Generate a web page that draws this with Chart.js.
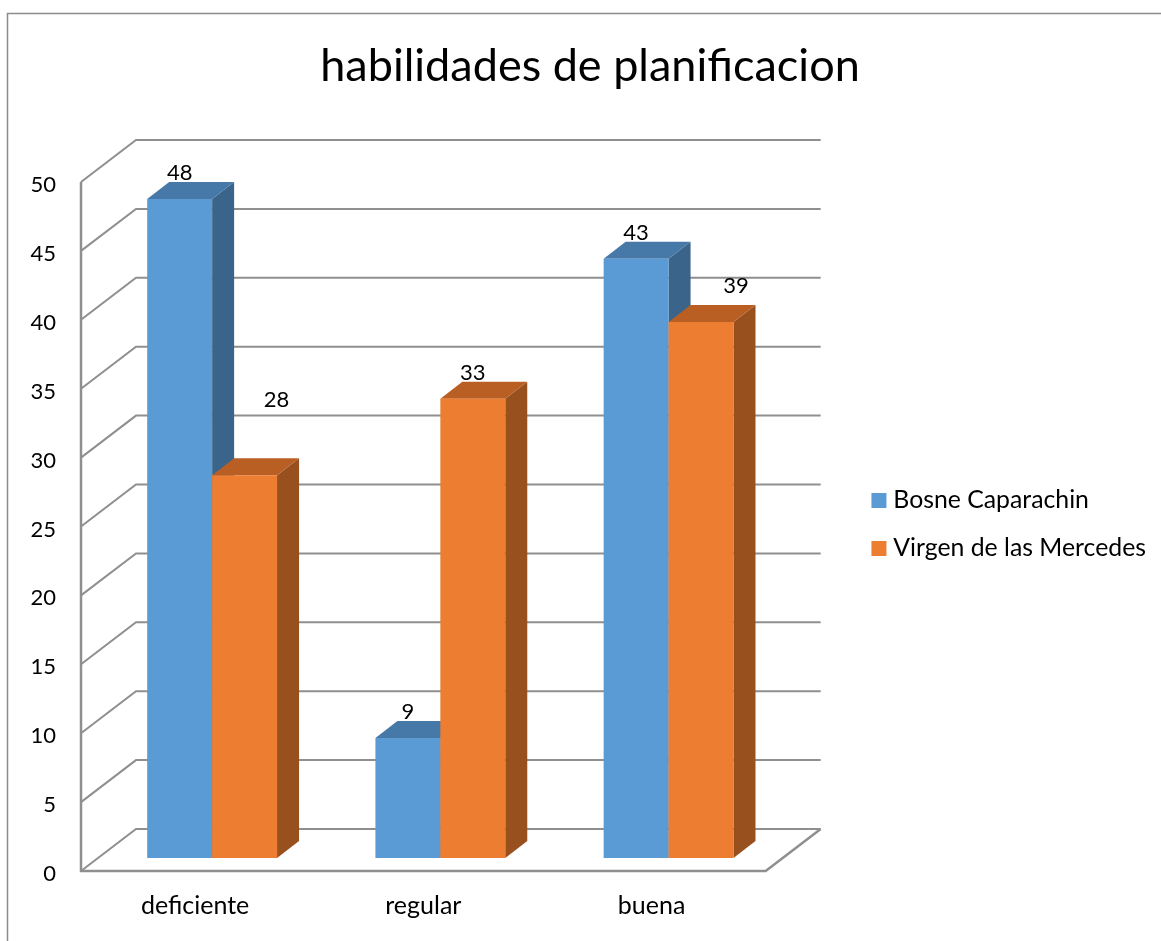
<!DOCTYPE html>
<html><head><meta charset="utf-8">
<style>html,body{margin:0;padding:0;background:#fff}#w{width:1161px;height:941px}</style>
<script src="https://cdn.jsdelivr.net/npm/chart.js@4/dist/chart.umd.min.js"></script>
</head><body><div id="w"><canvas id="c" width="1161" height="941"></canvas></div>
<script>
const titleText = 'habilidades de planificacion';
const categories = ['deficiente', 'regular', 'buena'];
const seriesNames = ['Bosne Caparachin', 'Virgen de las Mercedes'];
const bosneValues = [47.83, 8.7, 43.48];
const virgenValues = [27.78, 33.33, 38.89];

const FONT = 'Lato';
const depth = {wallX: 55, wallY: 42, barX: 17, barY: 13, sideX: 22, sideY: 17};
const faces = [
  {front: '#5b9bd5', top: '#4678a8', side: '#3a6489'},
  {front: '#ed7d31', top: '#b95f24', side: '#99501f'}
];
const labelShift = [[[0, 0], [0, 0], [0, 0]], [[32, -49], [0, 0], [35, -10]]];

function swatch(color) {
  const cv = document.createElement('canvas');
  cv.width = 30; cv.height = 15;
  const g = cv.getContext('2d');
  g.fillStyle = color;
  g.fillRect(13, 0, 15, 15);
  return cv;
}

const box3d = {
  id: 'box3d',
  beforeDraw(chart) {
    const c = chart.ctx;
    c.save();
    c.strokeStyle = '#8c8c8c'; c.lineWidth = 1.5;
    c.beginPath(); c.moveTo(7.5, 941); c.lineTo(7.5, 13.5); c.lineTo(1161, 13.5); c.stroke();
    c.restore();
  },
  afterLayout(chart) {
    chart.legend.top -= 2; chart.legend.bottom -= 2;
    chart.scales.y.getLabelItems(chart.chartArea).forEach(item => { item.textOffset += 3; });
  },
  beforeDatasetsDraw(chart) {
    const c = chart.ctx, {left, right} = chart.chartArea, y = chart.scales.y;
    c.save();
    c.strokeStyle = '#8f8f8f'; c.lineWidth = 2; c.lineJoin = 'miter';
    y.ticks.forEach(t => {
      const py = y.getPixelForValue(t.value);
      c.beginPath(); c.moveTo(left, py);
      c.lineTo(left + depth.wallX, py - depth.wallY);
      c.lineTo(right + depth.wallX, py - depth.wallY);
      c.stroke();
    });
    const y0 = y.getPixelForValue(0), yMax = y.getPixelForValue(y.max);
    c.lineWidth = 2.5;
    c.beginPath(); c.moveTo(left, yMax); c.lineTo(left, y0); c.lineTo(right, y0);
    c.lineTo(right + depth.wallX, y0 - depth.wallY); c.stroke();
    chart.data.datasets.forEach((ds, i) => {
      chart.getDatasetMeta(i).data.forEach(el => {
        const l = el.x - el.width / 2 + depth.barX, r = l + el.width;
        const t = el.y - depth.barY, b = el.base - depth.barY;
        c.fillStyle = faces[i].side;
        c.beginPath(); c.moveTo(r, t); c.lineTo(r + depth.sideX, t - depth.sideY);
        c.lineTo(r + depth.sideX, b - depth.sideY); c.lineTo(r, b); c.closePath(); c.fill();
        c.fillStyle = faces[i].top;
        c.beginPath(); c.moveTo(l, t); c.lineTo(l + depth.sideX, t - depth.sideY);
        c.lineTo(r + depth.sideX, t - depth.sideY); c.lineTo(r, t); c.closePath(); c.fill();
        c.save(); c.translate(depth.barX, -depth.barY); el.draw(c, chart.chartArea); c.restore();
      });
    });
    c.fillStyle = '#000'; c.font = '22px ' + FONT; c.textAlign = 'center'; c.textBaseline = 'middle';
    chart.data.datasets.forEach((ds, i) => {
      chart.getDatasetMeta(i).data.forEach((el, j) => {
        c.fillText(Math.round(ds.data[j]).toString(),
          el.x + depth.barX + labelShift[i][j][0],
          el.y - depth.barY - 26 + labelShift[i][j][1]);
      });
    });
    c.restore();
    return false;
  }
};

new Chart(document.getElementById('c'), {
  type: 'bar',
  data: {
    labels: categories,
    datasets: [
      {label: seriesNames[0], data: bosneValues, backgroundColor: faces[0].front},
      {label: seriesNames[1], data: virgenValues, backgroundColor: faces[1].front}
    ]
  },
  plugins: [box3d],
  options: {
    responsive: false,
    animation: false,
    events: [],
    categoryPercentage: 0.569,
    barPercentage: 1,
    layout: {padding: {left: 24, right: 5, top: 0, bottom: 0}},
    scales: {
      x: {
        grid: {display: false}, border: {display: false},
        ticks: {color: '#000', font: {family: FONT, size: 25}, padding: 12, maxRotation: 0},
        afterFit(s) { s.height = 70; }
      },
      y: {
        min: 0, max: 50,
        grid: {display: false}, border: {display: false},
        ticks: {stepSize: 5, color: '#000', font: {family: FONT, size: 22}, padding: 17},
        afterFit(s) { s.width = 57; }
      },
      spacer: {
        type: 'linear', position: 'right', display: true,
        grid: {display: false}, border: {display: false}, ticks: {display: false},
        afterFit(s) { s.width = 77; }
      }
    },
    plugins: {
      tooltip: {enabled: false},
      title: {
        display: true, text: titleText, color: '#000',
        font: {family: FONT, size: 45, weight: 'normal', lineHeight: 1.2},
        padding: {top: 39, bottom: 89}
      },
      legend: {
        position: 'right', fullSize: false, maxWidth: 420,
        labels: {
          color: '#000', font: {family: FONT, size: 24.8}, boxWidth: 15, boxHeight: 15, padding: 23.2,
          usePointStyle: true,
          generateLabels(chart) {
            return Chart.defaults.plugins.legend.labels.generateLabels(chart).map((item, i) => {
              item.pointStyle = swatch(faces[i].front);
              return item;
            });
          }
        }
      }
    }
  }
});
</script></body></html>
